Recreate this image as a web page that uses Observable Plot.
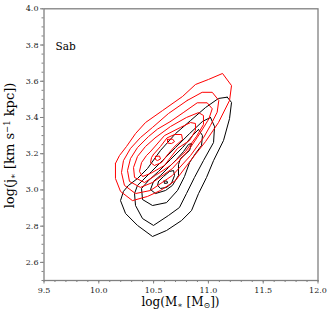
<!DOCTYPE html>
<html><head><meta charset="utf-8">
<script src="https://cdn.jsdelivr.net/npm/d3@7"></script>
<script src="https://cdn.jsdelivr.net/npm/@observablehq/plot@0.6"></script>
<style>
html,body{margin:0;padding:0;background:#fff}
svg{display:block}
svg text, svg tspan, svg g{font-family:"DejaVu Serif", serif !important;}
</style>
</head><body><div id="chart"></div>
<script>
// tick labels
const xTickLabels = [9.5, 10.0, 10.5, 11.0, 11.5, 12.0];
const yTickLabels = [2.6, 2.8, 3.0, 3.2, 3.4, 3.6, 3.8, 4.0];
const panelLabels = ["Sab"];

// red contours (outer -> inner), [log M*, log j*]
const red1 = [[10.152,3.146],[10.152,3.063],[10.198,2.992],[10.307,2.941],[10.444,2.964],[10.563,2.997],[10.700,3.052],[10.837,3.162],[10.974,3.267],[11.092,3.372],[11.193,3.494],[11.211,3.576],[11.129,3.643],[11.001,3.610],[10.882,3.582],[10.764,3.516],[10.581,3.438],[10.426,3.372],[10.335,3.311],[10.253,3.240],[10.189,3.190]];
const red2 = [[10.807,3.494],[10.943,3.539],[11.035,3.539],[11.095,3.494],[11.080,3.429],[11.019,3.356],[10.958,3.291],[10.837,3.190],[10.672,3.080],[10.472,2.997],[10.335,2.980],[10.234,3.025],[10.207,3.096],[10.225,3.162],[10.289,3.229],[10.380,3.289],[10.490,3.345],[10.636,3.422]];
const red3 = [[10.654,3.378],[10.776,3.429],[10.898,3.481],[10.989,3.481],[11.035,3.448],[11.004,3.392],[10.928,3.317],[10.818,3.218],[10.672,3.118],[10.490,3.041],[10.380,3.014],[10.280,3.047],[10.262,3.107],[10.289,3.173],[10.353,3.234],[10.454,3.295],[10.536,3.336]];
const red4 = [[10.517,3.289],[10.654,3.350],[10.800,3.400],[10.910,3.427],[10.955,3.411],[10.955,3.361],[10.891,3.295],[10.791,3.212],[10.654,3.135],[10.517,3.080],[10.417,3.041],[10.326,3.069],[10.317,3.124],[10.353,3.185],[10.426,3.240]];
const red5 = [[10.472,3.212],[10.599,3.300],[10.745,3.345],[10.837,3.372],[10.882,3.367],[10.882,3.328],[10.828,3.273],[10.718,3.229],[10.599,3.135],[10.472,3.091],[10.399,3.074],[10.371,3.102],[10.390,3.151],[10.435,3.190]];
const red6 = [[10.499,3.196],[10.563,3.240],[10.622,3.287],[10.691,3.306],[10.755,3.306],[10.764,3.278],[10.695,3.242],[10.636,3.201],[10.572,3.151],[10.508,3.135],[10.472,3.151],[10.481,3.179]];
const redPeakA = [[10.627,3.279],[10.672,3.281],[10.691,3.267],[10.663,3.256],[10.627,3.259]];
const redPeakB = [[10.517,3.185],[10.554,3.187],[10.563,3.171],[10.536,3.162],[10.517,3.168]];

// black contours (outer -> inner)
const black1 = [[11.172,3.512],[11.211,3.483],[11.193,3.394],[11.138,3.273],[11.047,3.162],[10.983,3.069],[10.910,2.980],[10.846,2.886],[10.755,2.831],[10.618,2.776],[10.490,2.743],[10.353,2.804],[10.244,2.870],[10.198,2.941],[10.225,2.992],[10.271,3.025],[10.353,3.063],[10.444,3.118],[10.563,3.218],[10.700,3.311],[10.837,3.383],[10.974,3.455],[11.092,3.505]];
const black2 = [[11.019,3.400],[11.056,3.350],[11.047,3.262],[10.955,3.162],[10.873,3.069],[10.800,2.980],[10.736,2.903],[10.636,2.859],[10.499,2.804],[10.399,2.842],[10.335,2.914],[10.326,2.980],[10.353,3.025],[10.399,3.052],[10.481,3.102],[10.581,3.162],[10.700,3.234],[10.828,3.311],[10.946,3.378]];
const black3 = [[10.910,3.334],[10.946,3.300],[10.937,3.245],[10.882,3.201],[10.828,3.151],[10.782,3.074],[10.718,2.997],[10.618,2.930],[10.490,2.914],[10.399,2.947],[10.390,3.008],[10.454,3.052],[10.545,3.102],[10.654,3.168],[10.764,3.234],[10.855,3.300]];
const black4 = [[10.846,3.256],[10.828,3.218],[10.745,3.173],[10.727,3.140],[10.727,3.080],[10.672,3.025],[10.609,2.997],[10.517,2.980],[10.472,3.002],[10.499,3.047],[10.563,3.080],[10.636,3.124],[10.709,3.168],[10.773,3.212],[10.818,3.251]];
const black5 = [[10.545,3.047],[10.590,3.074],[10.645,3.102],[10.682,3.107],[10.691,3.080],[10.663,3.036],[10.618,3.014],[10.563,3.008],[10.536,3.025]];
const blackPeak = [[10.595,3.049],[10.622,3.049],[10.627,3.038],[10.599,3.036]];

const redSet = {red1, red2, red3, red4, red5, red6, redPeakA, redPeakB};
const blackSet = {black1, black2, black3, black4, black5, blackPeak};

function rows(set) {
  return Object.entries(set).flatMap(([id, pts]) =>
    [...pts, pts[0]].map(([x, y]) => ({id, x, y})));
}
const redRows = rows(redSet);
const blackRows = rows(blackSet);

const xMinor = d3.range(95, 121).map(i => i / 10);
const yMinor = d3.range(50, 81).map(i => i / 20);
const fmt = d3.format(".1f");
const gray = "#808080";
const serif = "DejaVu Serif";

const svg = Plot.plot({
  width: 332, height: 318,
  marginLeft: 43.5, marginRight: 14.5, marginTop: 8.3, marginBottom: 38,
  style: {fontFamily: serif, fontSize: "8px", background: "#fff"},
  x: {domain: [9.5, 12.0]},
  y: {domain: [2.5, 4.0]},
  marks: [
    Plot.axisX({ticks: xMinor, tickSize: 2, text: null, color: gray, label: null}),
    Plot.axisX({ticks: xTickLabels, tickSize: 3.5, text: null, color: gray, label: null}),
    Plot.axisX({ticks: xTickLabels, tickSize: 0, tickPadding: 6.5, tickFormat: fmt, color: "#222", label: null, fontFamily: serif}),
    Plot.axisY({ticks: yMinor, tickSize: 2, text: null, color: gray, label: null}),
    Plot.axisY({ticks: yTickLabels, tickSize: 3.5, text: null, color: gray, label: null}),
    Plot.axisY({ticks: yTickLabels, tickSize: 0, tickPadding: 5.5, tickFormat: fmt, color: "#222", label: null, fontFamily: serif}),
    Plot.line(blackRows, {x: "x", y: "y", z: "id", stroke: "#000", strokeWidth: 1}),
    Plot.line(redRows, {x: "x", y: "y", z: "id", stroke: "#ff0000", strokeWidth: 1}),
    Plot.frame({stroke: gray, strokeWidth: 1.3}),
    Plot.text(panelLabels, {frameAnchor: "top-left", text: d => d, dx: 11.5, dy: 34, textAnchor: "start", fontSize: 10.5, fill: "#000", fontFamily: serif})
  ]
});

const s = d3.select(svg);
const xl = s.append("text")
  .attr("x", 180.5).attr("y", 306)
  .attr("text-anchor", "middle")
  .attr("font-size", 12).attr("fill", "#000")
  .attr("font-family", serif);
xl.append("tspan").text("log(M");
xl.append("tspan").attr("font-size", 8).attr("dy", 2).text("∗");
xl.append("tspan").attr("dy", -2).text(" [M");
xl.append("tspan").attr("font-size", 8).attr("dy", 2).text("⊙");
xl.append("tspan").attr("dy", -2).text("])");

const yl = s.append("text")
  .attr("transform", "translate(14,145.5) rotate(-90)")
  .attr("text-anchor", "middle")
  .attr("font-size", 13).attr("fill", "#000")
  .attr("font-family", serif);
yl.append("tspan").text("log(j");
yl.append("tspan").attr("font-size", 8.5).attr("dy", 2).text("∗");
yl.append("tspan").attr("dy", -2).text(" [km s");
yl.append("tspan").attr("font-size", 8.5).attr("dy", -4.5).text("−1");
yl.append("tspan").attr("dy", 4.5).text(" kpc])");

document.getElementById("chart").appendChild(svg);
</script>
</body></html>
